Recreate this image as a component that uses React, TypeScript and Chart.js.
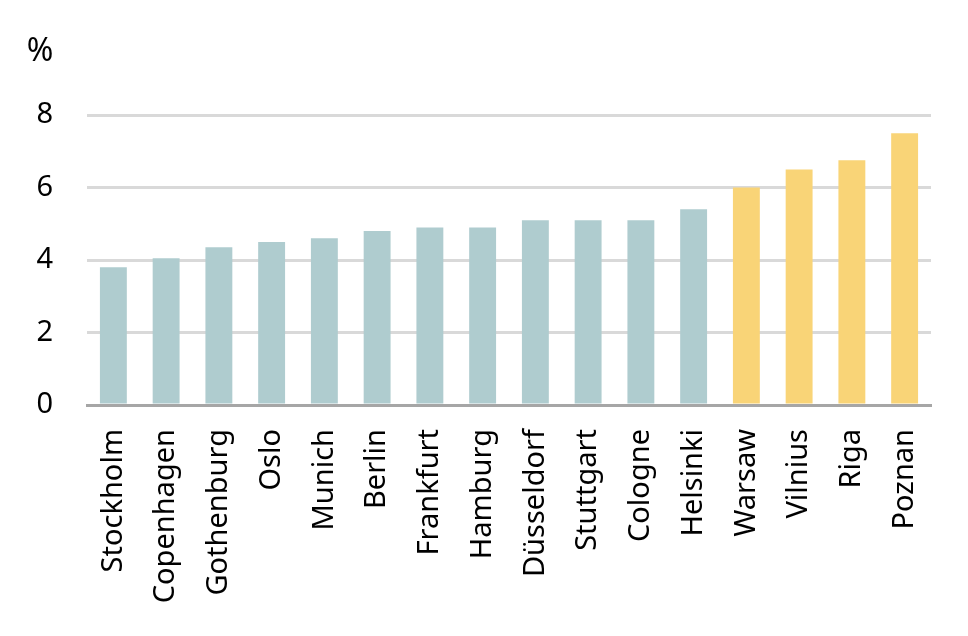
import React, { useEffect, useRef } from "react";
import { Chart, registerables } from "chart.js";

Chart.register(...registerables);

const categories = [
  "Stockholm", "Copenhagen", "Gothenburg", "Oslo", "Munich", "Berlin", "Frankfurt", "Hamburg",
  "Düsseldorf", "Stuttgart", "Cologne", "Helsinki", "Warsaw", "Vilnius", "Riga", "Poznan",
];
const values = [3.8, 4.05, 4.35, 4.5, 4.6, 4.8, 4.9, 4.9, 5.1, 5.1, 5.1, 5.4, 6.0, 6.5, 6.75, 7.5];
const highlighted = ["Warsaw", "Vilnius", "Riga", "Poznan"];
const yTicks = [0, 2, 4, 6, 8];
const unitLabel = "%";

const TEAL = "#afcccf";
const YELLOW = "#f9d477";
const FONT = "'Noto Sans', 'Open Sans', sans-serif";

export default function App() {
  const ref = useRef<HTMLCanvasElement | null>(null);

  useEffect(() => {
    if (!ref.current) return;
    const unitPlugin = {
      id: "unitLabel",
      afterDraw(chart: any) {
        const ctx = chart.ctx;
        const y = chart.scales.y;
        ctx.save();
        ctx.font = `32px ${FONT}`;
        ctx.fillStyle = "#000";
        ctx.textAlign = "center";
        ctx.textBaseline = "middle";
        ctx.fillText(unitLabel, 40, y.top - 63);
        ctx.restore();
      },
    };
    const chart = new Chart(ref.current, {
      type: "bar",
      data: {
        labels: categories,
        datasets: [
          {
            data: values,
            backgroundColor: categories.map((c) => (highlighted.includes(c) ? YELLOW : TEAL)),
            categoryPercentage: 1,
            barPercentage: 0.51,
            borderWidth: 0,
          },
        ],
      },
      options: {
        animation: false,
        responsive: false,
        maintainAspectRatio: false,
        layout: { padding: { left: 0, right: 37, top: 115, bottom: 0 } },
        plugins: { legend: { display: false }, tooltip: { enabled: false }, title: { display: false } },
        scales: {
          x: {
            grid: { display: false, drawTicks: false },
            border: { display: true, color: "#a6a6a6", width: 3 },
            ticks: {
              autoSkip: false,
              maxRotation: 90,
              minRotation: 90,
              padding: 24,
              color: "#000",
              font: { family: FONT, size: 29 },
            },
            afterFit(scale: any) {
              scale.height = 231;
            },
          },
          y: {
            min: 0,
            max: 8,
            afterBuildTicks(scale: any) {
              scale.ticks = yTicks.map((v) => ({ value: v }));
            },
            grid: {
              drawTicks: false,
              color: (c: any) => (c.tick && c.tick.value === 0 ? "rgba(0,0,0,0)" : "#d9d9d9"),
              lineWidth: 3,
            },
            border: { display: false },
            ticks: {
              padding: 34,
              color: "#000",
              font: { family: FONT, size: 29 },
            },
            afterFit(scale: any) {
              scale.width = 87;
            },
          },
        },
      },
      plugins: [unitPlugin],
    });
    return () => chart.destroy();
  }, []);

  return (
    <div style={{ position: "fixed", left: 0, top: 0, width: 968, height: 636, background: "#fff" }}>
      <canvas ref={ref} width={968} height={636} style={{ width: 968, height: 636 }} />
    </div>
  );
}
